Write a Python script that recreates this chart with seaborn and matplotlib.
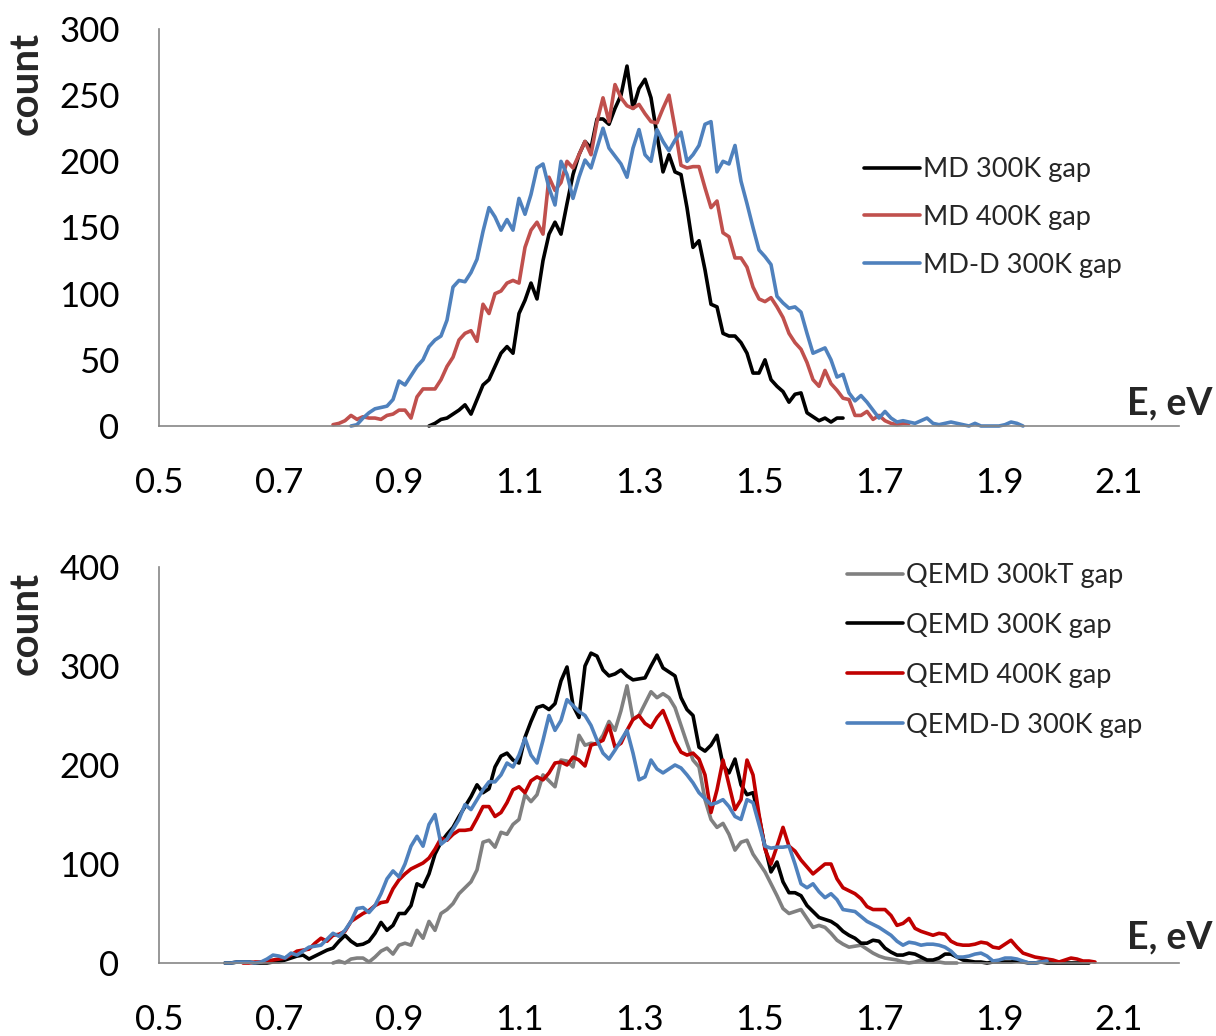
import numpy as np
import pandas as pd
import matplotlib
matplotlib.use("Agg")
import matplotlib.pyplot as plt
import seaborn as sns

# energy grid step (eV) and first energy of each series
step = 0.01

# top panel: MD gap histograms
md300_start = 0.95
md300 = [0, 2, 5, 6, 9, 12, 16, 9, 20, 31,
         35, 45, 55, 60, 55, 85, 95, 108, 96, 125,
         145, 154, 145, 168, 190, 205, 215, 210, 232, 232,
         228, 240, 250, 272, 240, 255, 262, 248, 220, 192,
         205, 192, 190, 165, 135, 140, 118, 92, 90, 70,
         68, 68, 63, 55, 40, 40, 50, 35, 30, 26,
         18, 24, 25, 10, 7, 4, 6, 3, 6, 6]

md400_start = 0.79
md400 = [1, 2, 4, 8, 5, 7, 6, 6, 5, 8,
         9, 12, 12, 6, 22, 28, 28, 28, 35, 45,
         52, 65, 70, 72, 64, 92, 85, 100, 102, 108,
         110, 108, 135, 148, 154, 145, 188, 178, 184, 200,
         195, 205, 215, 205, 230, 248, 230, 258, 248, 242,
         240, 243, 236, 230, 229, 240, 250, 225, 197, 195,
         196, 196, 180, 165, 170, 146, 143, 127, 127, 120,
         105, 96, 94, 97, 90, 82, 70, 63, 58, 48,
         35, 30, 42, 32, 27, 21, 20, 8, 8, 11,
         5, 8, 4, 2, 1, 2, 2]

mdd300_start = 0.82
mdd300 = [0, 1, 6, 10, 13, 14, 15, 20,
          34, 31, 38, 45, 50, 60, 65, 68, 80, 105,
          110, 109, 116, 126, 147, 165, 158, 148, 156, 148,
          172, 160, 175, 195, 198, 180, 167, 200, 190, 172,
          188, 201, 195, 210, 225, 210, 204, 198, 188, 210,
          224, 205, 200, 224, 215, 208, 216, 222, 200, 205,
          212, 228, 230, 192, 200, 198, 212, 185, 168, 150,
          133, 128, 122, 98, 93, 89, 90, 86, 70, 55,
          57, 59, 50, 37, 39, 25, 19, 23, 18, 12,
          6, 11, 6, 3, 4, 3, 2, 4, 6, 2,
          1, 2, 3, 2, 1, 0, 2, 0, 0, 0,
          0, 1, 3, 2, 0]

# bottom panel: QEMD gap histograms
qemd300kT_start = 0.79
qemd300kT = [0, 2, 0, 4, 5, 5, 1, 6, 12, 15,
             9, 18, 20, 18, 33, 25, 42, 33, 50, 54,
             60, 70, 76, 82, 94, 122, 124, 117, 132, 130,
             140, 145, 170, 163, 170, 190, 184, 178, 205, 204,
             198, 230, 220, 222, 221, 230, 244, 235, 255, 280,
             246, 250, 262, 274, 268, 272, 268, 258, 240, 222,
             205, 198, 165, 145, 137, 141, 130, 114, 122, 124,
             110, 101, 92, 80, 68, 55, 50, 52, 54, 45,
             36, 38, 36, 30, 23, 19, 16, 17, 18, 14,
             10, 7, 5, 4, 3, 1, 0, 1, 3, 2,
             1, 1, 0, 0, 0]

qemd300_start = 0.61
qemd300 = [0, 0, 1, 1, 1, 0, 0, 0, 1,
           1, 3, 5, 7, 8, 4, 7, 10, 13, 15,
           22, 28, 22, 18, 19, 22, 30, 41, 33, 38,
           50, 50, 58, 80, 77, 90, 110, 122, 130, 137,
           148, 158, 168, 180, 172, 176, 198, 209, 212, 205,
           202, 228, 244, 258, 260, 256, 262, 285, 299, 260,
           248, 300, 313, 310, 296, 290, 292, 296, 290, 286,
           287, 288, 300, 311, 298, 294, 290, 268, 256, 250,
           218, 214, 220, 230, 200, 192, 206, 180, 170, 172,
           148, 117, 92, 102, 82, 71, 71, 68, 58, 52,
           46, 44, 42, 38, 32, 28, 25, 20, 20, 23,
           22, 15, 11, 8, 8, 10, 9, 6, 3, 3,
           5, 9, 9, 6, 3, 2, 1, 1, 0, 1,
           1, 1, 1, 2, 1, 0, 0, 1, 0, 0,
           0, 0, 0, 0, 0, 0]

qemd400_start = 0.64
qemd400 = [0, 0, 1, 1, 2, 3,
           4, 5, 8, 12, 13, 14, 20, 25, 22, 28,
           29, 32, 42, 46, 50, 53, 58, 61, 62, 75,
           84, 90, 95, 98, 101, 106, 115, 126, 124, 130,
           134, 134, 135, 146, 158, 158, 148, 152, 162, 175,
           178, 172, 184, 188, 185, 192, 202, 203, 200, 208,
           205, 199, 220, 222, 225, 240, 218, 222, 235, 246,
           250, 242, 238, 248, 255, 240, 224, 213, 210, 212,
           206, 190, 152, 175, 205, 180, 155, 165, 205, 190,
           150, 115, 100, 118, 137, 118, 113, 104, 97, 90,
           95, 100, 100, 85, 76, 73, 70, 65, 57, 54,
           54, 54, 48, 38, 40, 45, 35, 32, 30, 28,
           30, 29, 22, 19, 18, 18, 19, 21, 20, 16,
           15, 19, 23, 16, 10, 8, 6, 5, 4, 3,
           1, 3, 5, 4, 2, 2, 1]

qemdd300_start = 0.61
qemdd300 = [0, 0, 1, 1, 1, 0, 1, 4, 8,
            7, 5, 10, 8, 12, 16, 17, 18, 24, 30,
            27, 33, 42, 55, 56, 51, 58, 70, 85, 93,
            87, 100, 118, 128, 118, 140, 150, 120, 125, 135,
            145, 160, 155, 165, 175, 183, 183, 190, 202, 198,
            210, 227, 210, 202, 225, 250, 235, 245, 266, 260,
            254, 250, 240, 225, 212, 206, 215, 225, 235, 212,
            185, 188, 205, 196, 192, 196, 200, 197, 190, 182,
            172, 166, 160, 162, 165, 158, 148, 145, 165, 162,
            140, 118, 116, 117, 117, 118, 100, 80, 76, 80,
            72, 66, 70, 64, 54, 53, 52, 47, 42, 39,
            36, 32, 28, 22, 18, 21, 20, 18, 19, 19,
            18, 16, 12, 6, 6, 7, 9, 10, 7, 2,
            3, 5, 5, 4, 2, 0, 0, 1, 2]

top_series = [("MD 300K gap", md300_start, md300, "#000000"),
              ("MD 400K gap", md400_start, md400, "#C0504D"),
              ("MD-D 300K gap", mdd300_start, mdd300, "#4F81BD")]
bottom_series = [("QEMD 300kT gap", qemd300kT_start, qemd300kT, "#808080"),
                 ("QEMD 300K gap", qemd300_start, qemd300, "#000000"),
                 ("QEMD 400K gap", qemd400_start, qemd400, "#C00000"),
                 ("QEMD-D 300K gap", qemdd300_start, qemdd300, "#4F81BD")]

x_ticks = [0.5, 0.7, 0.9, 1.1, 1.3, 1.5, 1.7, 1.9, 2.1]

sns.set_style("white")
plt.rcParams["font.family"] = ["Lato", "DejaVu Sans"]

fig = plt.figure(figsize=(12.16, 10.36), dpi=100)
ax1 = fig.add_axes([159 / 1216, 1 - 426 / 1036, 1020 / 1216, 397 / 1036])
ax2 = fig.add_axes([159 / 1216, 1 - 963 / 1036, 1020 / 1216, 396 / 1036])


def draw(ax, series, ymax, ystep):
    for name, start, vals, col in series:
        e = np.round(start + step * np.arange(len(vals)), 3)
        df = pd.DataFrame({"E": e, "count": vals})
        sns.lineplot(data=df, x="E", y="count", ax=ax, color=col, label=name,
                     linewidth=2.6, estimator=None)
    for ln in ax.get_lines():
        ln.set_clip_on(False)
        ln.set_solid_joinstyle("round")
        ln.set_solid_capstyle("round")
    ax.set_xlim(0.5, 2.2)
    ax.set_ylim(0, ymax)
    ax.set_xticks(x_ticks)
    ax.set_xticklabels([f"{t:.1f}" for t in x_ticks])
    ax.set_yticks(np.arange(0, ymax + 1, ystep))
    ax.set_xlabel("")
    ax.set_ylabel("")
    for s in ["top", "right"]:
        ax.spines[s].set_visible(False)
    for s in ["left", "bottom"]:
        ax.spines[s].set_color("#868686")
        ax.spines[s].set_linewidth(1.2)
    ax.tick_params(axis="both", direction="out", length=9.4, width=1.2,
                   color="#868686", labelsize=25, labelcolor="black")
    ax.tick_params(axis="x", pad=20)
    ax.tick_params(axis="y", pad=19)


draw(ax1, top_series, 300, 50)
draw(ax2, bottom_series, 400, 100)

ax1.legend(loc="upper left", bbox_to_anchor=(864 / 1216, 1 - 157 / 1036),
           bbox_transform=fig.transFigure, frameon=False, fontsize=19.5,
           handlelength=2.05, handletextpad=0.12, labelspacing=0.84,
           borderpad=0, borderaxespad=0)
ax2.legend(loc="upper left", bbox_to_anchor=(847 / 1216, 1 - 563 / 1036),
           bbox_transform=fig.transFigure, frameon=False, fontsize=19.5,
           handlelength=2.05, handletextpad=0.12, labelspacing=0.92,
           borderpad=0, borderaxespad=0)

for yc in [83, 623]:
    fig.text(26 / 1216, 1 - yc / 1036, "count", rotation=90, fontsize=29,
             fontweight="bold", ha="center", va="center")
for yc in [403, 937]:
    fig.text(1170 / 1216, 1 - yc / 1036, "E, eV", fontsize=27,
             fontweight="bold", ha="center", va="center")

fig.savefig("out.png", dpi=100)
